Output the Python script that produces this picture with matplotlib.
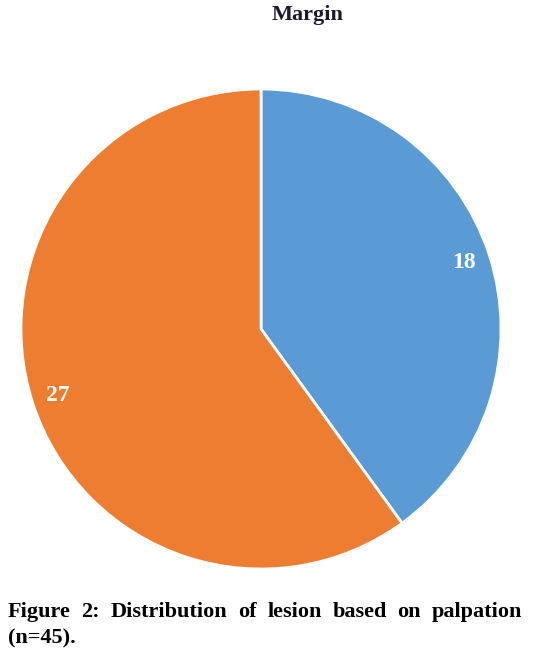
import matplotlib.pyplot as plt

# data
labels = ["18", "27"]
values = [18, 27]
colors = ["#5B9BD5", "#ED7D31"]
title = "Margin"
caption_lines = ["Figure 2: Distribution of lesion based on palpation", "(n=45)."]

W, H = 559, 660
fig = plt.figure(figsize=(W / 100, H / 100), dpi=100)

# pie area: centre (261, 329), radius 240 px
cx, cy, r = 261, 329, 240
ax = fig.add_axes([(cx - r) / W, 1 - (cy + r) / H, 2 * r / W, 2 * r / H])
wedges, texts = ax.pie(
    values,
    labels=labels,
    colors=colors,
    startangle=90,
    counterclock=False,
    labeldistance=0.89,
    wedgeprops=dict(edgecolor="white", linewidth=2),
    textprops=dict(color="white", fontsize=17, fontweight="bold", family="Liberation Serif"),
)
for t in texts:
    t.set_ha("center")
    t.set_va("center")
ax.set_aspect("equal")
ax.set_xlim(-1, 1)
ax.set_ylim(-1, 1)

fig.text(308 / W, 1 - 15 / H, title, ha="center", va="center",
         fontsize=16, fontweight="bold", family="Liberation Serif", color="#1a1a2e")

# caption, first line justified between x=8 and x=522
cap_kw = dict(fontsize=16, fontweight="bold", family="Liberation Serif", color="black", va="center")
left, right = 8, 522
words = caption_lines[0].split()
renderer = fig.canvas.get_renderer()
objs = [fig.text(0, 1 - 612 / H, w, ha="left", **cap_kw) for w in words]
widths = [t.get_window_extent(renderer).width for t in objs]
gap = (right - left - sum(widths)) / (len(words) - 1)
x = left
for t, w in zip(objs, widths):
    t.set_x(x / W)
    x += w + gap
fig.text(left / W, 1 - 638 / H, caption_lines[1], ha="left", **cap_kw)

fig.savefig("out.png", dpi=100)
